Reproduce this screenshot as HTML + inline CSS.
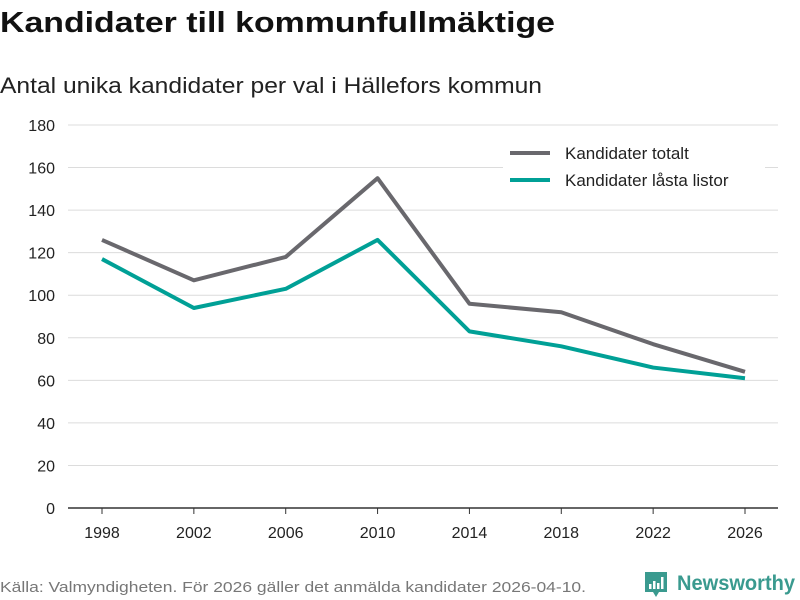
<!DOCTYPE html>
<html><head><meta charset="utf-8"><style>
body{margin:0;background:#fff;}
svg{display:block;font-family:"Liberation Sans",sans-serif;}
</style></head><body>
<svg id="chart" width="800" height="600">
<text x="0" y="32" font-size="29" font-weight="bold" fill="#111" textLength="555" lengthAdjust="spacingAndGlyphs">Kandidater till kommunfullmäktige</text>
<text x="0" y="93" font-size="22" fill="#222" textLength="542" lengthAdjust="spacingAndGlyphs">Antal unika kandidater per val i Hällefors kommun</text>
<g id="grid"></g><g id="series"></g>
<g>
<rect x="503" y="138" width="262" height="58" fill="#fff"/>
<line x1="510" y1="153" x2="550" y2="153" stroke="#69686d" stroke-width="4"/>
<text x="565" y="159" font-size="17" fill="#222">Kandidater totalt</text>
<line x1="510" y1="180" x2="550" y2="180" stroke="#00a096" stroke-width="4"/>
<text x="565" y="186" font-size="17" fill="#222">Kandidater låsta listor</text>
</g>
<text x="0" y="592" font-size="15" fill="#777" textLength="586" lengthAdjust="spacingAndGlyphs">Källa: Valmyndigheten. För 2026 gäller det anmälda kandidater 2026-04-10.</text>
<g>
<path d="M645 572h22v20h-8l-3 5l-3-5h-8z" fill="#3a9a8f"/>
<rect x="649" y="584" width="2.5" height="5" fill="#fff"/><rect x="653" y="581" width="2.5" height="8" fill="#fff"/><rect x="657" y="583" width="2.5" height="6" fill="#fff"/><rect x="661" y="577" width="2.5" height="12" fill="#fff"/>
<text x="677" y="590" font-size="21" font-weight="bold" fill="#3a9a8f" textLength="118" lengthAdjust="spacingAndGlyphs">Newsworthy</text>
</g>
</svg>
<script>
const years=[1998,2002,2006,2010,2014,2018,2022,2026];
const totalt=[126,107,118,155,96,92,77,64];
const lasta=[117,94,103,126,83,76,66,61];
const yTicks=[0,20,40,60,80,100,120,140,160,180];
const NS="http://www.w3.org/2000/svg";
const x=y=>102+(y-1998)/28*643;
const yy=v=>508-v/180*383;
function mk(tag,attrs,parent){const e=document.createElementNS(NS,tag);for(const k in attrs)e.setAttribute(k,attrs[k]);parent.appendChild(e);return e;}
const grid=document.getElementById('grid'),ser=document.getElementById('series');
yTicks.forEach(t=>{
 if(t>0){const l=mk('line',{x1:68,x2:778,y1:yy(t),y2:yy(t),stroke:'#dcdcdc','stroke-width':1},grid);
 
 }
 const tx=mk('text',{x:55,y:yy(t)+6,'font-size':16,fill:'#222','text-anchor':'end'},grid);tx.textContent=t;
 
 
});
const ax=mk('line',{x1:68,x2:778,y1:508,y2:508,stroke:'#333','stroke-width':1.5},grid);


years.forEach(yr=>{
 mk('line',{x1:x(yr),x2:x(yr),y1:508,y2:514,stroke:'#333'},grid);
 const tx=mk('text',{x:x(yr),y:538,'font-size':16,fill:'#222','text-anchor':'middle'},grid);tx.textContent=yr;
 
 
});
function line(vals,color,name){
 const p=mk('polyline',{points:vals.map((v,i)=>x(years[i])+','+yy(v)).join(' '),fill:'none',stroke:color,'stroke-width':4,'stroke-linejoin':'round'},ser);
 
 
}
line(totalt,'#69686d','line-kandidater-totalt');
line(lasta,'#00a096','line-kandidater-lasta-listor');
</script>
</body></html>
